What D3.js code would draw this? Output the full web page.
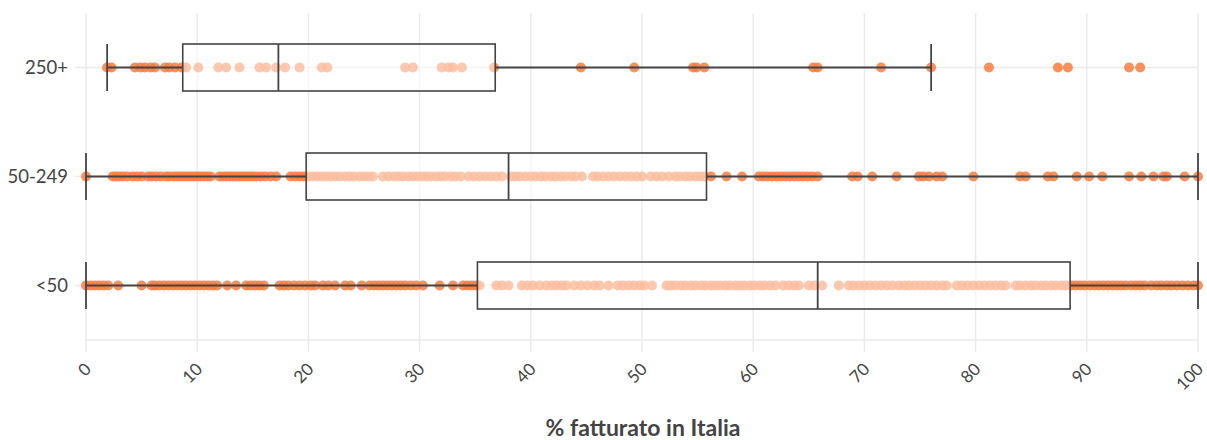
<!DOCTYPE html>
<html lang="en">
<head>
<meta charset="utf-8">
<script src="https://cdn.jsdelivr.net/npm/d3@7"></script>
<style>
  body { margin: 0; background: #fff; }
  svg { font-family: Lato, "Open Sans", sans-serif; }
  .grid line { stroke: #ebebeb; stroke-width: 1.5px; }
  .ylab { fill: #444; font-size: 18.5px; }
  .xlab { fill: #444; font-size: 17px; }
  .title { fill: #444; font-size: 23px; font-weight: bold; }
  .box rect { fill: #fff; fill-opacity: 0.5; stroke: #444; stroke-width: 1.6px; }
  .box line { stroke: #444; stroke-width: 1.8px; }
</style>
</head>
<body>
<svg width="1207" height="440"></svg>
<script>
// categories, top to bottom order handled by the scale
const categories = ["<50", "50-249", "250+"];

// box statistics: [lower whisker, q1, median, q3, upper whisker]
const stats250 = [1.9, 8.7, 17.3, 36.8, 76.0];
const stats50_249 = [0, 19.8, 38.0, 55.8, 100];
const statsLt50 = [0, 35.2, 65.8, 88.5, 100];

// individual points (% fatturato in Italia)
const pts250 = [1.9, 2.3, 4.4, 4.9, 5.3, 5.8, 6.2, 7.1, 7.5, 8.0, 8.6, 9.0, 10.1, 11.9, 12.6,
  13.8, 15.6, 16.2, 17.1, 17.9, 19.2, 21.2, 21.7, 28.7, 29.4, 32.0, 32.6, 33.0, 33.8, 36.7,
  44.5, 49.3, 54.6, 54.9, 55.6, 65.4, 65.8, 71.5, 76.0, 81.2, 87.4, 88.3, 93.8, 94.8];

const pts50_249 = [0, 2.4, 2.7, 3.0, 3.3, 3.7, 4.2, 4.6, 5.0, 5.6, 5.9, 6.3, 6.7, 7.2, 7.5, 7.9, 8.2,
  8.5, 8.8, 9.1, 9.4, 9.7, 10.0, 10.3, 10.6, 10.9, 11.2, 12.0, 12.3, 12.6, 12.9, 13.2, 13.5, 13.8,
  14.1, 14.4, 14.7, 15.0, 15.3, 15.7, 16.1, 16.6, 17.1, 18.4, 18.8, 19.2, 19.6,
  20.0, 20.4, 20.8, 21.2, 21.6, 22.0, 22.4, 22.8, 23.3, 23.7, 24.1, 24.6, 25.0, 25.4, 25.8,
  26.7, 27.2, 27.7, 28.1, 28.5, 29.0, 29.4, 29.8, 30.2, 30.6, 31.0, 31.5, 31.9, 32.3, 32.8, 33.2, 33.7,
  34.4, 34.9, 35.4, 35.9, 36.4, 36.9, 37.4, 38.2, 38.6, 39.0, 39.5, 40.0, 40.4, 40.9, 41.3, 41.8,
  42.2, 42.7, 43.1, 43.6, 44.0, 44.6, 45.6, 46.0, 46.5, 47.0, 47.5, 48.0, 48.5, 49.0, 49.5, 50.0,
  50.8, 51.3, 51.8, 52.4, 53.0, 53.4, 53.9, 54.3, 54.8, 55.2, 55.6,
  56.2, 57.6, 59.0, 60.5, 60.9, 61.3, 61.7, 62.1, 62.5, 62.9, 63.3, 63.7, 64.1, 64.5, 64.9, 65.3, 65.8,
  68.9, 69.4, 70.7, 72.9, 74.9, 75.3, 75.8, 76.5, 77.0, 79.8, 84.0, 84.5, 86.5, 87.0, 89.1, 90.2,
  91.4, 93.8, 94.9, 96.0, 96.9, 97.2, 98.8, 100];

const ptsLt50 = [0, 0.4, 0.8, 1.2, 1.6, 2.0, 2.9, 5.0, 5.9, 6.2, 6.6, 7.0, 7.4, 7.8, 8.2, 8.6, 9.0,
  9.4, 9.8, 10.2, 10.6, 11.0, 11.4, 11.8, 12.7, 13.5, 14.4, 14.8, 15.2, 15.6, 16.0,
  17.4, 17.8, 18.2, 18.7, 19.2, 19.7, 20.2, 20.6, 21.3, 21.8, 22.4, 23.3, 23.8, 24.8,
  25.5, 25.9, 26.3, 26.7, 27.1, 27.5, 27.9, 28.3, 28.7, 29.2, 29.7, 30.3, 31.8, 33.0, 33.9, 34.3, 34.7, 35.1,
  35.4, 36.9, 37.4, 38.0, 39.2, 39.7, 40.2, 40.8, 41.4, 41.9, 42.3, 42.8, 43.2, 43.9, 44.5, 45.1,
  45.7, 46.2, 47.0, 47.8, 48.3, 48.8, 49.3, 49.8, 50.2, 50.9, 52.2, 52.6, 53.0, 53.5, 53.9, 54.4,
  54.8, 55.3, 55.7, 56.2, 56.6, 57.0, 57.5, 57.9, 58.4, 58.8, 59.2, 59.7, 60.1, 60.6, 61.0, 61.5,
  62.0, 62.7, 63.2, 63.7, 64.1, 65.0, 65.5, 66.2, 67.7, 68.6, 69.0, 69.5, 70.0, 70.5, 71.0, 71.5,
  72.0, 72.5, 73.1, 73.6, 74.0, 74.5, 75.0, 75.5, 76.0, 76.5, 77.0, 77.4, 78.3, 78.8, 79.3, 79.8,
  80.3, 80.8, 81.3, 81.8, 82.3, 82.7, 83.6, 84.0, 84.5, 85.0, 85.4, 85.9, 86.3, 86.8, 87.2, 87.7, 88.1,
  88.6, 89.0, 89.4, 89.8, 90.3, 90.7, 91.1, 91.5, 91.9, 92.3, 92.7, 93.1, 93.5, 94.0, 94.4, 94.8,
  95.2, 95.8, 96.3, 96.7, 97.2, 97.6, 98.1, 98.6, 99.1, 99.6, 100];

const xTicks = [0, 10, 20, 30, 40, 50, 60, 70, 80, 90, 100];
const xTitle = "% fatturato in Italia";

const rows = [
  { cat: "250+", stats: stats250, pts: pts250 },
  { cat: "50-249", stats: stats50_249, pts: pts50_249 },
  { cat: "<50", stats: statsLt50, pts: ptsLt50 }
];

const svg = d3.select("svg");
const plotTop = 13, plotBottom = 340;

const x = d3.scaleLinear().domain([0, 100]).range([86, 1198]);
const y = d3.scaleBand().domain(categories).range([plotBottom, plotTop]);
const yc = c => y(c) + y.bandwidth() / 2;
const boxH = 47;

// grid
const grid = svg.append("g").attr("class", "grid");
grid.selectAll(".vx").data(xTicks).join("line")
  .attr("x1", d => x(d)).attr("x2", d => x(d))
  .attr("y1", plotTop).attr("y2", plotBottom + 12);
grid.selectAll(".hy").data(categories).join("line")
  .attr("x1", x(0) - 11).attr("x2", x(100))
  .attr("y1", d => yc(d)).attr("y2", d => yc(d));
grid.append("line")
  .attr("x1", x(0)).attr("x2", x(100))
  .attr("y1", plotBottom).attr("y2", plotBottom);

// points
rows.forEach(r => {
  svg.append("g").selectAll("circle").data(r.pts).join("circle")
    .attr("cx", d => x(d))
    .attr("cy", yc(r.cat))
    .attr("r", 5)
    .attr("fill", "#f97d40")
    .attr("fill-opacity", 0.85);
});

// boxes
rows.forEach(r => {
  const [lo, q1, med, q3, hi] = r.stats;
  const cy = yc(r.cat);
  const g = svg.append("g").attr("class", "box");
  g.append("line").attr("x1", x(lo)).attr("x2", x(q1)).attr("y1", cy).attr("y2", cy);
  g.append("line").attr("x1", x(q3)).attr("x2", x(hi)).attr("y1", cy).attr("y2", cy);
  g.append("line").attr("x1", x(lo)).attr("x2", x(lo)).attr("y1", cy - boxH / 2).attr("y2", cy + boxH / 2);
  g.append("line").attr("x1", x(hi)).attr("x2", x(hi)).attr("y1", cy - boxH / 2).attr("y2", cy + boxH / 2);
  g.append("rect")
    .attr("x", x(q1)).attr("width", x(q3) - x(q1))
    .attr("y", cy - boxH / 2).attr("height", boxH);
  g.append("line").attr("x1", x(med)).attr("x2", x(med)).attr("y1", cy - boxH / 2).attr("y2", cy + boxH / 2);
});

// y labels
svg.append("g").selectAll("text").data(categories).join("text")
  .attr("class", "ylab")
  .attr("x", 68).attr("y", d => yc(d))
  .attr("dy", "0.35em")
  .attr("text-anchor", "end")
  .text(d => d);

// x labels, rotated
svg.append("g").selectAll("text").data(xTicks).join("text")
  .attr("class", "xlab")
  .attr("transform", d => `translate(${x(d) + 2},${366}) rotate(-45)`)
  .attr("dy", "0.35em")
  .attr("text-anchor", "end")
  .text(d => d);

svg.append("text")
  .attr("class", "title")
  .attr("x", 643).attr("y", 436)
  .attr("text-anchor", "middle")
  .text(xTitle);
</script>
</body>
</html>
